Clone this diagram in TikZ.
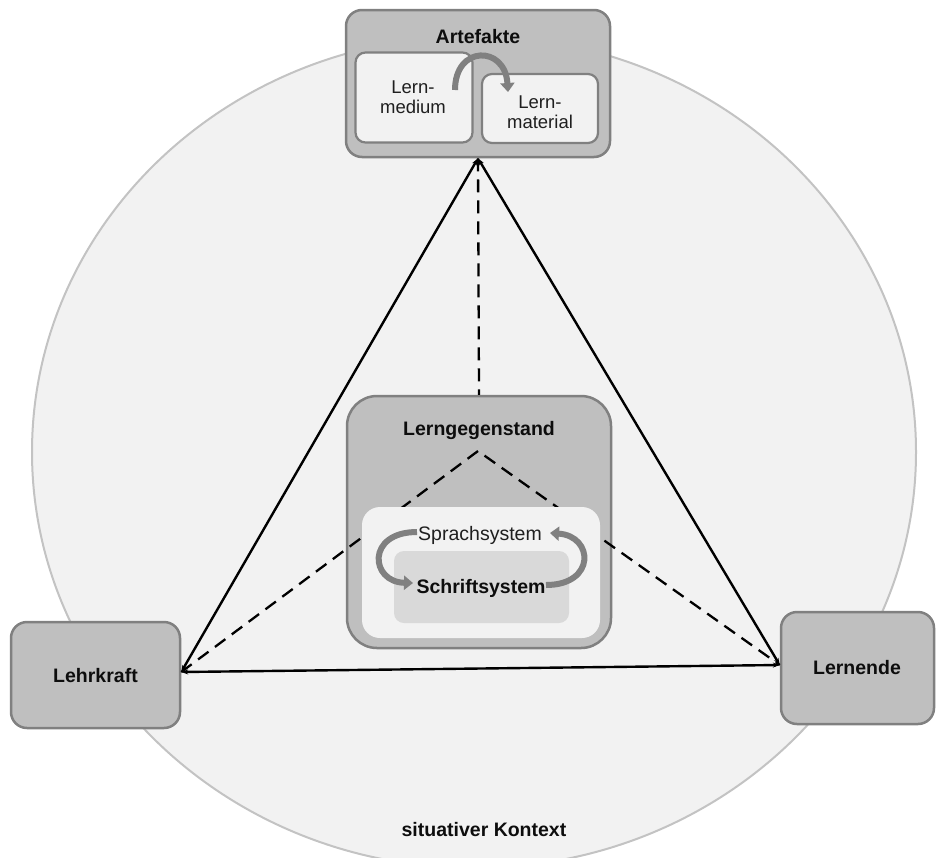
\documentclass[tikz,border=0pt]{standalone}
\usepackage{fontspec}
\setmainfont{Liberation Sans}
\usetikzlibrary{arrows.meta}
\definecolor{ctx}{HTML}{F2F2F2}
\definecolor{ctxline}{HTML}{C3C3C3}
\definecolor{boxfill}{HTML}{BFBFBF}
\definecolor{boxline}{HTML}{808080}
\definecolor{innerfill}{HTML}{F2F2F2}
\definecolor{schriftfill}{HTML}{D9D9D9}
\definecolor{arrowgray}{HTML}{808080}
\tikzset{
  graybox/.style={draw=boxline, line width=2.5pt, fill=boxfill, rounded corners=16pt, inner sep=0pt},
  lightbox/.style={draw=boxline, line width=2.2pt, fill=innerfill, rounded corners=10pt, inner sep=0pt},
  plainbox/.style={fill=#1, draw=none, inner sep=0pt},
  boldtxt/.style={font=\fontsize{19.5}{22}\selectfont\bfseries, text=black!95},
  normtxt/.style={font=\fontsize{18.5}{20.5}\selectfont, text=black!88, align=center},
  midtxt/.style={font=\fontsize{19.5}{22}\selectfont, text=black!88},
  relline/.style={line width=2.4pt, {Stealth[length=7pt,width=5pt]}-{Stealth[length=7pt,width=5pt]}},
  dashline/.style={line width=2.3pt, dash pattern=on 13pt off 8pt},
  cyclearrow/.style={draw=arrowgray, line width=6pt, -{Triangle[length=9pt,width=14pt]}}
}
\begin{document}
\begin{tikzpicture}[x=1pt,y=-1pt]
\useasboundingbox (0,0) rectangle (936,857);
\fill[white] (0,0) rectangle (936,857);
% situative context
\draw[fill=ctx, draw=ctxline, line width=2pt] (474,452) ellipse [x radius=442, y radius=416];
\node[boldtxt] (ctxT) at (484,830) {situativer Kontext};

% outer boxes
\node[graybox, minimum width=264pt, minimum height=147pt] (art) at (478,83.5) {};
\node[boldtxt] (artT) at (478,37) {Artefakte};
\node[lightbox, minimum width=117pt, minimum height=90pt] (med) at (414,97.5) {};
\node[normtxt] (medT) at (413,97) {Lern-\\medium};
\node[lightbox, minimum width=116pt, minimum height=69pt] (mat) at (540,108.5) {};
\node[normtxt] (matT) at (540,112) {Lern-\\material};
\draw[cyclearrow] (455,90) .. controls (455,45) and (505,45) .. (508,92);

\node[graybox, minimum width=169pt, minimum height=106pt] (lehr) at (95.5,675) {};
\node[boldtxt] (lehrT) at (95.5,676) {Lehrkraft};
\node[graybox, minimum width=153pt, minimum height=112pt] (lern) at (857.5,668) {};
\node[boldtxt] (lernT) at (857,668) {Lernende};

% Lerngegenstand
\node[graybox, rounded corners=30pt, minimum width=264pt, minimum height=252pt] (gg) at (479,522) {};
\node[boldtxt] (ggT) at (479,430) {Lerngegenstand};

% vertices
\coordinate (T) at (art.south);
\coordinate (L) at ([yshift=3pt]lehr.east);
\coordinate (R) at ([yshift=3pt]lern.west);
\coordinate (apex) at (478,451);

% dashed relations
\draw[dashline] (T) -- (gg.north);
\draw[dashline] (L) -- (apex) -- (R);

% inner boxes
\node[plainbox=innerfill, rounded corners=18pt, minimum width=238pt, minimum height=131pt] (inner) at (481,572.5) {};
\node[plainbox=schriftfill, rounded corners=10pt, minimum width=175pt, minimum height=72pt] (schrift) at (481.5,587) {};
\node[midtxt] (sprT) at (480,535) {Sprachsystem};
\node[boldtxt] (schT) at (481,588) {Schriftsystem};
\draw[cyclearrow] (417,532) .. controls (366,532) and (370,582) .. (413,583);
\draw[cyclearrow] (546,585) .. controls (596,585) and (594,536) .. (550,533);

% solid triangle
\draw[relline] (L) -- (T);
\draw[relline] (R) -- (T);
\draw[relline] (L) -- (R);
\end{tikzpicture}
\end{document}
